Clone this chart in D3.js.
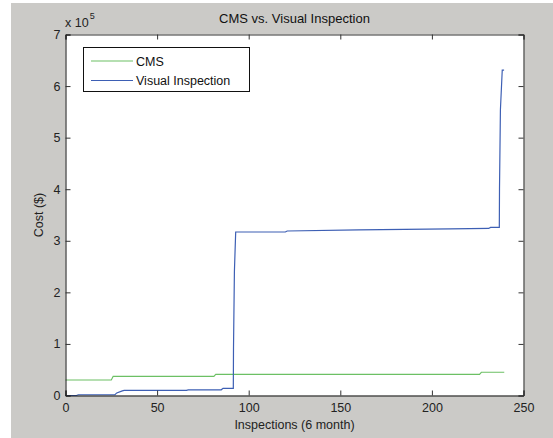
<!DOCTYPE html>
<html><head><meta charset="utf-8">
<script src="https://cdn.jsdelivr.net/npm/d3@7"></script>
<style>body{margin:0;background:#fff}svg{display:block}text{font-family:"Liberation Sans",Arial,sans-serif}</style>
</head><body>
<svg id="c" width="553" height="438"></svg>
<script>
// data (cost in units of 1e5 $)
const title = "CMS vs. Visual Inspection";
const xTicks = [0, 50, 100, 150, 200, 250];
const yTicks = [0, 1, 2, 3, 4, 5, 6, 7];
const seriesNames = ["CMS", "Visual Inspection"];
const cmsX = [0, 25, 26, 81, 82, 226, 227, 239.5];
const cmsY = [0.30, 0.30, 0.37, 0.37, 0.41, 0.41, 0.45, 0.45];
const viX = [0, 6, 7, 27, 28, 31, 32, 66, 67, 85, 86, 91.6, 91.7, 92.2, 92.9, 120, 121, 160, 210, 231, 232, 236.8, 236.9, 237.4, 238.4, 239.4];
const viY = [0, 0, 0.015, 0.015, 0.05, 0.09, 0.10, 0.10, 0.11, 0.11, 0.14, 0.14, 0.9, 2.41, 3.17, 3.17, 3.19, 3.21, 3.23, 3.24, 3.26, 3.26, 4.01, 5.54, 6.31, 6.31];

const svg = d3.select("#c");
svg.append("rect").attr("x",11).attr("y",3).attr("width",542).attr("height",435).attr("fill","#cbcac7");
const L=65.5, R=523.5, T=34.5, B=395.5;
const x = d3.scaleLinear().domain([0,250]).range([L,R]);
const y = d3.scaleLinear().domain([0,7]).range([B,T]);
svg.append("rect").attr("x",L).attr("y",T).attr("width",R-L).attr("height",B-T).attr("fill","#fff");

const line = d3.line().x(d=>x(d[0])).y(d=>y(d[1]));
const cms = cmsX.map((v,i)=>[v,cmsY[i]]);
const vi = viX.map((v,i)=>[v,viY[i]]);
svg.append("path").datum(cms).attr("d",line).attr("fill","none").attr("stroke","#6cc064").attr("stroke-width",1.1);
svg.append("path").datum(vi).attr("d",line).attr("fill","none").attr("stroke","#3d5fb4").attr("stroke-width",1.2);

const tc="#222";
// axes with inward ticks
const gx = svg.append("g").attr("transform",`translate(0,${B})`).call(d3.axisBottom(x).tickValues(xTicks).tickSize(-5).tickPadding(8).tickFormat(d3.format("d")));
const gxt = svg.append("g").attr("transform",`translate(0,${T})`).call(d3.axisTop(x).tickValues(xTicks).tickSize(-5).tickFormat(""));
const gy = svg.append("g").attr("transform",`translate(${L},0)`).call(d3.axisLeft(y).tickValues(yTicks).tickSize(-5).tickPadding(5).tickFormat(d3.format("d")));
const gyr = svg.append("g").attr("transform",`translate(${R},0)`).call(d3.axisRight(y).tickValues(yTicks).tickSize(-5).tickFormat(""));
[gx,gxt,gy,gyr].forEach(g=>{
  g.select(".domain").attr("stroke","#333");
  g.selectAll(".tick line").attr("stroke","#333");
  g.selectAll("text").attr("font-size",12.5).attr("fill",tc).attr("font-family","Liberation Sans, Arial, sans-serif");
});
gy.select(".domain").attr("stroke","#111");
gx.select(".domain").attr("stroke","#111");

svg.append("text").attr("x",(L+R)/2).attr("y",23).attr("text-anchor","middle").attr("font-size",13).attr("fill","#111").text(title);
svg.append("text").attr("x",(L+R)/2).attr("y",429).attr("text-anchor","middle").attr("font-size",12.5).attr("fill",tc).text("Inspections (6 month)");
svg.append("text").attr("transform",`translate(43,${(T+B)/2}) rotate(-90)`).attr("text-anchor","middle").attr("font-size",12.5).attr("fill",tc).text("Cost ($)");
const ex = svg.append("text").attr("x",65).attr("y",27).attr("font-size",12.5).attr("fill",tc);
ex.append("tspan").text("x 10");
ex.append("tspan").attr("dy",-8).attr("dx",1).attr("font-size",9).text("5");

// legend
const lg = svg.append("g");
lg.append("rect").attr("x",83.5).attr("y",47.5).attr("width",166).attr("height",44).attr("fill","#fff").attr("stroke","#111");
const colors=["#6cc064","#3d5fb4"];
seriesNames.forEach((n,i)=>{
  const yy = 61 + i*19.5;
  lg.append("line").attr("x1",91).attr("x2",133).attr("y1",yy).attr("y2",yy).attr("stroke",colors[i]).attr("stroke-width",1.1);
  lg.append("text").attr("x",136).attr("y",yy+4.5).attr("font-size",12.5).attr("fill","#111").text(n);
});
</script>
</body></html>
